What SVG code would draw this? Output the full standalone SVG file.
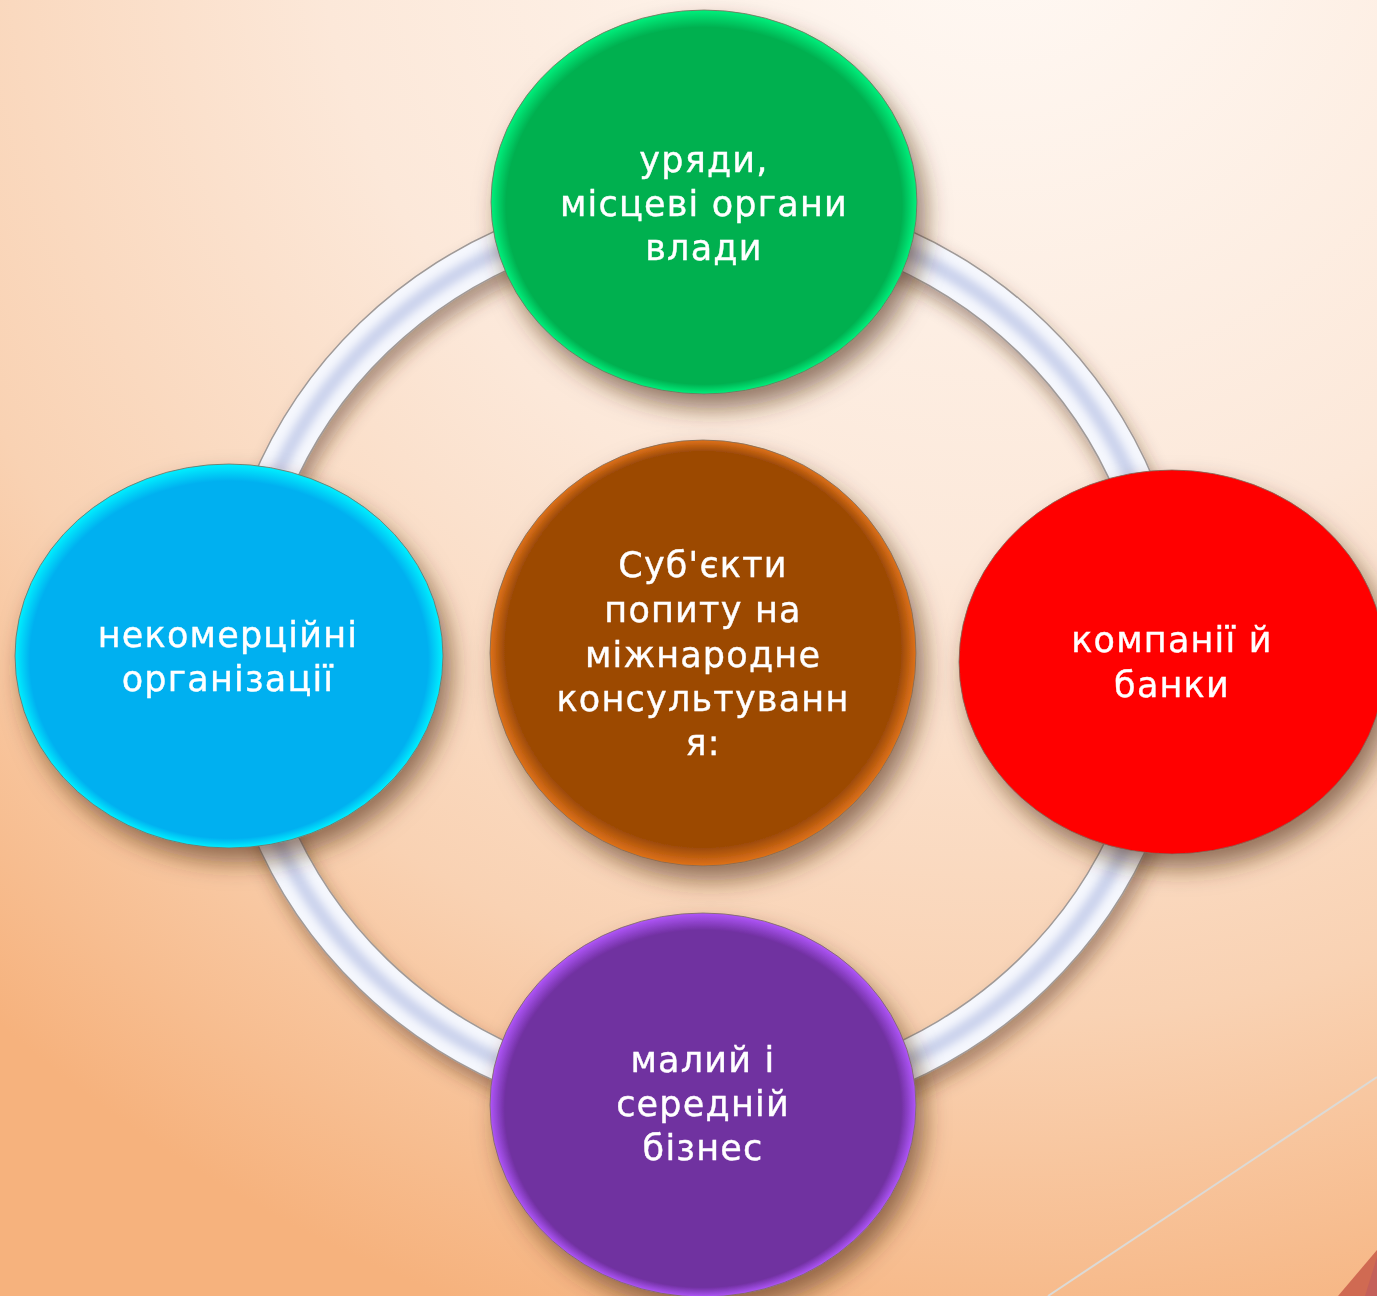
<svg xmlns="http://www.w3.org/2000/svg" width="1377" height="1296" viewBox="0 0 1377 1296">
  <defs>
    <radialGradient id="bg" gradientUnits="userSpaceOnUse" cx="1000" cy="-120" r="1520">
      <stop offset="0" stop-color="#fffaf6"/>
      <stop offset="0.45" stop-color="#fce8d9"/>
      <stop offset="0.75" stop-color="#f9d2b3"/>
      <stop offset="1" stop-color="#f6b27d"/>
    </radialGradient>
    <filter id="shadow" x="-25%" y="-25%" width="160%" height="160%">
      <feDropShadow dx="8" dy="14" stdDeviation="12" flood-color="#4f2f14" flood-opacity="0.6"/>
    </filter>
    <filter id="ringShadow" x="-10%" y="-10%" width="125%" height="125%">
      <feDropShadow dx="5" dy="12" stdDeviation="9" flood-color="#4f2f14" flood-opacity="0.45"/>
    </filter>
    <filter id="soft" x="-5%" y="-5%" width="110%" height="110%">
      <feGaussianBlur stdDeviation="4"/>
    </filter>
    <radialGradient id="gGreen" cx="0.5" cy="0.5" r="0.5" fx="0.5" fy="0.64">
      <stop offset="0" stop-color="#00b050"/>
      <stop offset="0.93" stop-color="#00b050"/>
      <stop offset="1" stop-color="#00f07c"/>
    </radialGradient>
    <radialGradient id="gBrown" cx="0.5" cy="0.5" r="0.5" fx="0.5" fy="0.38">
      <stop offset="0" stop-color="#9c4a06"/>
      <stop offset="0.93" stop-color="#9c4a06"/>
      <stop offset="1" stop-color="#e0721a"/>
    </radialGradient>
    <radialGradient id="gCyan" cx="0.5" cy="0.5" r="0.5" fx="0.5" fy="0.64">
      <stop offset="0" stop-color="#00b0f0"/>
      <stop offset="0.93" stop-color="#00b0f0"/>
      <stop offset="1" stop-color="#00f0ff"/>
    </radialGradient>
    <radialGradient id="gRed" cx="0.5" cy="0.5" r="0.5">
      <stop offset="0" stop-color="#ff0000"/>
      <stop offset="1" stop-color="#ff0000"/>
    </radialGradient>
    <radialGradient id="gPurple" cx="0.5" cy="0.5" r="0.5" fx="0.5" fy="0.64">
      <stop offset="0" stop-color="#7030a0"/>
      <stop offset="0.93" stop-color="#7030a0"/>
      <stop offset="1" stop-color="#b056fa"/>
    </radialGradient>
  </defs>
  <style>
    .node { stroke: #7d6a5a; stroke-width: 1; stroke-opacity: 0.8; }
    .label { font-family: "DejaVu Sans", "Noto Sans", sans-serif; font-size: 35px; letter-spacing: 1.2px; fill: #ffffff; stroke: #ffffff; stroke-width: 0.4; text-anchor: middle; }
    .ringEdge { fill: none; stroke: #a09a98; stroke-width: 42; }
    .ringBody { fill: none; stroke: #f5f7fd; stroke-width: 39; }
    .ringCore { fill: none; stroke: #cad2ec; stroke-width: 14; }
  </style>

  <rect x="0" y="0" width="1377" height="1296" fill="url(#bg)"/>
  <line x1="1048" y1="1296" x2="1377" y2="1077" stroke="#dcdad6" stroke-width="2"/>
  <polygon points="1338,1296 1377,1250 1377,1296" fill="#d06a52"/>
  <polygon points="1365,1296 1377,1257 1377,1296" fill="#c4605a"/>

  <g id="connectors" filter="url(#ringShadow)">
    <ellipse class="ringEdge" cx="703" cy="656" rx="466" ry="450"/>
    <ellipse class="ringBody" cx="703" cy="656" rx="466" ry="450"/>
    <ellipse class="ringCore" cx="703" cy="656" rx="466" ry="450" filter="url(#soft)"/>
  </g>

  <g id="node-center" filter="url(#shadow)">
    <ellipse class="node" cx="703" cy="653" rx="213" ry="213" fill="url(#gBrown)"/>
    <text class="label" x="703" y="577">Суб'єкти</text>
    <text class="label" x="703" y="622">попиту на</text>
    <text class="label" x="703" y="667">міжнародне</text>
    <text class="label" x="703" y="711">консультуванн</text>
    <text class="label" x="703" y="755">я:</text>
  </g>

  <g id="node-top" filter="url(#shadow)">
    <ellipse class="node" cx="704" cy="202" rx="213" ry="192" fill="url(#gGreen)"/>
    <text class="label" x="704" y="172">уряди,</text>
    <text class="label" x="704" y="216">місцеві органи</text>
    <text class="label" x="704" y="260">влади</text>
  </g>

  <g id="node-left" filter="url(#shadow)">
    <ellipse class="node" cx="229" cy="656" rx="214" ry="192" fill="url(#gCyan)"/>
    <text class="label" x="228" y="647">некомерційні</text>
    <text class="label" x="228" y="691">організації</text>
  </g>

  <g id="node-right" filter="url(#shadow)">
    <ellipse class="node" cx="1172" cy="662" rx="213" ry="192" fill="url(#gRed)"/>
    <text class="label" x="1172" y="652">компанії й</text>
    <text class="label" x="1172" y="697">банки</text>
  </g>

  <g id="node-bottom" filter="url(#shadow)">
    <ellipse class="node" cx="703" cy="1105" rx="213" ry="192" fill="url(#gPurple)"/>
    <text class="label" x="703" y="1072">малий і</text>
    <text class="label" x="703" y="1116">середній</text>
    <text class="label" x="703" y="1160">бізнес</text>
  </g>
</svg>
